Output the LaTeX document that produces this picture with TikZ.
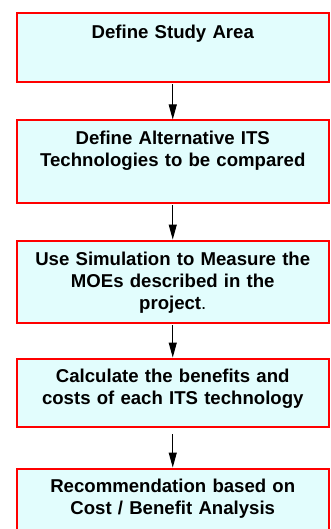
\documentclass[tikz,border=0pt]{standalone}
\usepackage{fontspec}
\setmainfont{Liberation Sans}
\usetikzlibrary{arrows.meta}
\definecolor{boxfill}{RGB}{226,253,253}
\definecolor{boxline}{RGB}{255,0,0}
\begin{document}
\begin{tikzpicture}[x=1pt,y=-1pt,
  stepbox/.style={draw=boxline, line width=2pt, fill=boxfill, rectangle,
    minimum width=311.5pt, inner sep=0pt, anchor=north},
  steptext/.style={font=\bfseries\fontsize{18.6}{21.7}\selectfont,
    align=center, text width=310pt, anchor=base, inner sep=0pt},
  flow/.style={line width=1pt, shorten <=1pt, -{Triangle[length=15pt,width=8pt]}}]
\useasboundingbox (0,0) rectangle (331,529);
\clip (0,0) rectangle (331,529);
\node[stepbox, minimum height=69pt]   (b1) at (172.75,12.5)  {};
\node[stepbox, minimum height=82.5pt] (b2) at (172.75,119.5) {};
\node[stepbox, minimum height=82.5pt] (b3) at (172.75,239.5) {};
\node[stepbox, minimum height=68.5pt] (b4) at (172.75,357.5) {};
\node[stepbox, minimum height=80pt]   (b5) at (172.75,467.5) {};
\node[steptext] (t1) at (172.75,39)    {Define Study Area};
\node[steptext] (t2) at (172.75,145)   {Define Alternative ITS\\Technologies to be compared};
\node[steptext] (t3) at (172.75,265.7) {Use Simulation to Measure the\\MOEs described in the\\project\mdseries.};
\node[steptext] (t4) at (172.75,382.7) {Calculate the benefits and\\costs of each ITS technology};
\node[steptext] (t5) at (172.75,492.3) {Recommendation based on\\Cost / Benefit Analysis};
\draw[flow] (b1.south) -- (b2.north);
\draw[flow] (b2.south) -- (b3.north);
\draw[flow] (b3.south) -- (b4.north);
\draw[flow, shorten <=6pt] (b4.south) -- (b5.north);
\end{tikzpicture}
\end{document}
